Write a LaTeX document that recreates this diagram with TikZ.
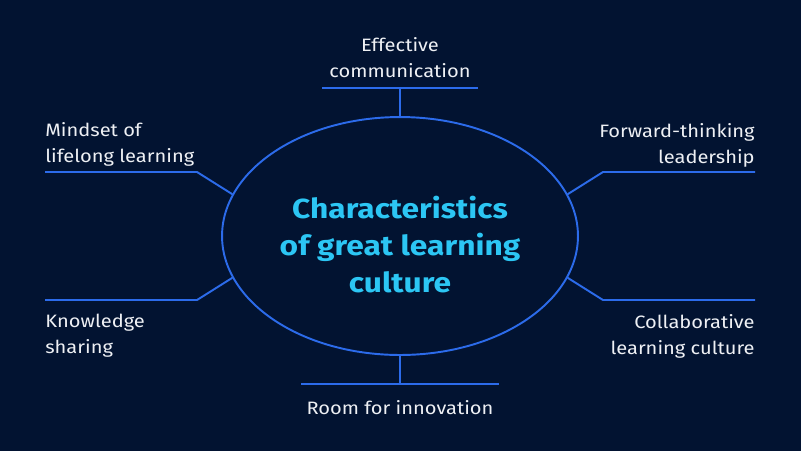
\documentclass[tikz,border=0pt]{standalone}
\usepackage{fontspec}
\setmainfont[FakeStretch=1.12]{Fira Sans}
\usepackage{xcolor}
\usepackage{tikz}
\usetikzlibrary{
  positioning,
  shapes.geometric,
}
\definecolor{navybg}{HTML}{021331}
\definecolor{linkblue}{HTML}{2C6BEA}
\definecolor{titlecyan}{HTML}{2CC6F4}
\definecolor{notegrey}{HTML}{EEF0F4}

\begin{document}
\begin{tikzpicture}[x=0.02cm, y=-0.02cm,
  link/.style={draw=linkblue, line width=1.1pt},
  sidetext/.style={text=notegrey, inner sep=0pt, font=\fontsize{10.2}{14.7}\selectfont},
  ]
  \fill[navybg] (0,0) rectangle (801,451);

  % centre
  \node[link, ellipse, inner sep=0pt, minimum width=7.12cm, minimum height=4.76cm] (core) at (400,236) {};
  \node[text=titlecyan, align=center, inner sep=0pt,
        font=\fontsize{15.7}{21.3}\selectfont\bfseries\addfontfeature{FakeStretch=1.15}] (title) at (400,244.5)
        {Characteristics\\of great learning\\culture};

  % top
  \coordinate (ec-l) at (322,88);
  \coordinate (ec-r) at (478,88);
  \coordinate (ec-m) at (400,88);
  \draw[link] (ec-l) -- (ec-r);
  \draw[link] (ec-m) -- (core.north);
  \node[sidetext, align=center, anchor=north] (ec) at (400,37.5) {Effective\\communication};

  % bottom
  \coordinate (ri-l) at (301,384);
  \coordinate (ri-r) at (499,384);
  \coordinate (ri-m) at (400,384);
  \draw[link] (ri-l) -- (ri-r);
  \draw[link] (ri-m) -- (core.south);
  \node[sidetext, anchor=north] (ri) at (400,400) {Room for innovation};

  % left side
  \coordinate (ml-end) at (45,172);
  \coordinate (ml-knee) at (197,172);
  \draw[link] (ml-end) -- (ml-knee) -- (core.166);
  \node[sidetext, align=left, anchor=north west] (ml) at (45,122) {Mindset of\\lifelong learning};

  \coordinate (ks-end) at (45,300);
  \coordinate (ks-knee) at (197,300);
  \draw[link] (ks-end) -- (ks-knee) -- (core.194);
  \node[sidetext, align=left, anchor=north west] (ks) at (45,314) {Knowledge\\sharing};

  % right side
  \coordinate (fl-end) at (755,172);
  \coordinate (fl-knee) at (603,172);
  \draw[link] (fl-end) -- (fl-knee) -- (core.14);
  \node[sidetext, align=right, anchor=north east] (fl) at (755,123.5) {Forward-thinking\\leadership};

  \coordinate (cl-end) at (755,300);
  \coordinate (cl-knee) at (603,300);
  \draw[link] (cl-end) -- (cl-knee) -- (core.346);
  \node[sidetext, align=right, anchor=north east] (cl) at (755,314) {Collaborative\\learning culture};
\end{tikzpicture}
\end{document}
